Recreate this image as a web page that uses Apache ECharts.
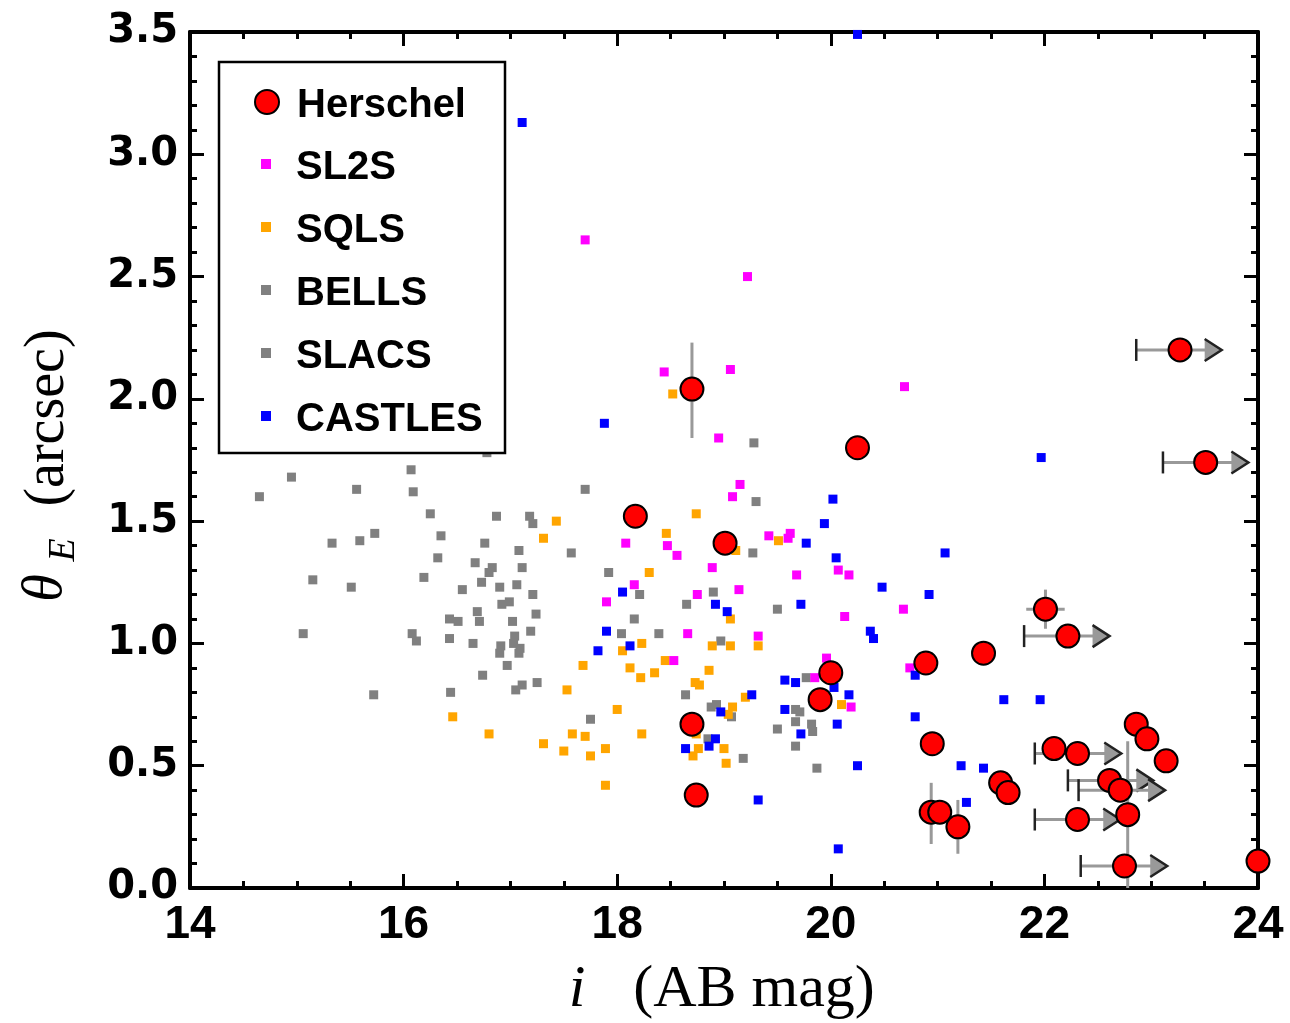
<!DOCTYPE html>
<html>
<head>
<meta charset="utf-8">
<script src="https://cdn.jsdelivr.net/npm/echarts@6/dist/echarts.min.js"></script>
<style>html,body{margin:0;padding:0;background:#fff}#c{width:1290px;height:1023px}</style>
</head>
<body>
<div id="c"></div>
<script>
// ---- data (i mag, theta_E arcsec) ----
const seriesNames = ['Herschel', 'SL2S', 'SQLS', 'BELLS', 'SLACS', 'CASTLES'];
const xTicks = [14, 16, 18, 20, 22, 24];
const yTicks = [0.0, 0.5, 1.0, 1.5, 2.0, 2.5, 3.0, 3.5];

const herschel = [
  [18.70,2.04],[20.25,1.80],[18.17,1.52],[19.01,1.41],[23.27,2.20],[23.51,1.74],
  [22.01,1.14],[22.22,1.03],[20.89,0.92],[21.43,0.96],[20.00,0.88],[19.90,0.77],
  [18.70,0.67],[18.74,0.38],[20.95,0.59],[22.09,0.57],[22.31,0.55],[22.86,0.67],
  [22.96,0.61],[23.14,0.52],[22.61,0.44],[22.71,0.40],[21.59,0.43],[21.66,0.39],
  [20.94,0.31],[21.02,0.31],[21.19,0.25],[22.31,0.28],[22.78,0.30],[22.75,0.09],
  [24.00,0.11]
];
// lower limits on i: [i, theta, bar start, arrow tip]
const herschelLimits = [
  [23.27,2.20,22.86,23.66],[23.51,1.74,23.11,23.91],[22.22,1.03,21.81,22.61],
  [22.31,0.55,21.91,22.72],[22.61,0.44,22.22,23.02],[22.71,0.40,22.32,23.13],
  [22.31,0.28,21.91,22.71],[22.75,0.09,22.34,23.15]
];
// error bars: [i, theta, theta low, theta high, i low, i high]
const herschelErrors = [
  [18.70,2.04,1.84,2.23,18.70,18.70],
  [22.01,1.14,1.06,1.22,21.83,22.19],
  [20.94,0.31,0.18,0.43,20.94,20.94],
  [21.19,0.25,0.14,0.36,21.19,21.19],
  [22.78,0.30,0.00,0.60,22.78,22.78]
];
const sl2s = [
  [17.70,2.65],[19.22,2.50],[18.44,2.11],[19.06,2.12],[20.69,2.05],[18.95,1.84],
  [19.15,1.65],[19.08,1.60],[18.08,1.41],[18.47,1.40],[18.56,1.36],[19.42,1.44],
  [19.62,1.45],[19.60,1.43],[18.89,1.31],[19.68,1.28],[20.07,1.30],[20.17,1.28],
  [19.14,1.22],[18.75,1.20],[20.13,1.11],[20.68,1.14],[17.90,1.17],[18.16,1.24],
  [18.53,0.93],[18.66,1.04],[19.32,1.03],[20.74,0.90],[19.85,0.86],[19.96,0.94],
  [20.19,0.74]
];
const sqls = [
  [17.43,1.50],[17.31,1.43],[17.68,0.91],[17.53,0.81],[16.46,0.70],[16.80,0.63],
  [17.31,0.59],[17.50,0.56],[17.58,0.63],[17.70,0.62],[17.75,0.54],[17.89,0.57],
  [17.89,0.42],[18.00,0.73],[18.23,0.63],[18.12,0.90],[18.22,0.86],[18.35,0.88],
  [18.45,0.93],[18.05,0.97],[18.23,1.00],[18.30,1.29],[18.46,1.45],[18.52,2.02],
  [18.74,1.53],[19.51,1.42],[19.11,1.38],[19.06,1.10],[18.89,0.99],[19.06,0.99],
  [19.32,0.99],[18.86,0.89],[18.73,0.84],[18.77,0.83],[19.20,0.78],[19.08,0.74],
  [19.04,0.71],[18.74,0.63],[18.76,0.57],[18.71,0.54],[19.00,0.57],[19.02,0.51],
  [20.10,0.75]
];
const bells = [
  [18.39,1.04],[19.28,1.82],[19.30,1.58],[19.27,1.37],[18.90,1.21],[18.65,1.16],
  [19.50,1.14],[18.97,1.01],[18.64,0.79],[18.88,0.74],[18.93,0.75],[19.07,0.70],
  [18.85,0.61],[19.18,0.53],[19.77,0.86],[19.67,0.73],[19.71,0.72],[19.50,0.65],
  [19.67,0.68],[19.82,0.67],[19.83,0.64],[19.67,0.58],[19.87,0.49]
];
const slacs = [
  [14.65,1.60],[14.95,1.68],[15.56,1.63],[16.07,1.71],[16.09,1.62],[16.25,1.53],
  [16.87,1.52],[17.18,1.52],[17.21,1.49],[17.70,1.63],[16.78,1.78],[16.35,1.44],
  [15.33,1.41],[15.59,1.42],[15.73,1.45],[16.76,1.41],[17.08,1.38],[17.57,1.37],
  [16.32,1.35],[16.67,1.33],[16.83,1.31],[16.80,1.29],[17.11,1.31],[16.19,1.27],
  [15.15,1.26],[15.51,1.23],[16.73,1.25],[16.55,1.22],[16.90,1.23],[17.06,1.24],
  [17.21,1.20],[17.92,1.29],[16.99,1.17],[16.92,1.16],[16.69,1.13],[17.24,1.12],
  [16.43,1.10],[16.51,1.09],[16.71,1.09],[17.02,1.09],[17.19,1.05],[15.06,1.04],
  [16.08,1.04],[16.12,1.01],[16.43,1.02],[16.65,1.00],[17.04,1.03],[17.03,1.00],
  [16.91,0.99],[16.90,0.96],[17.09,0.98],[17.08,0.96],[16.97,0.91],[16.74,0.87],
  [15.72,0.79],[16.44,0.80],[17.05,0.81],[17.11,0.83],[17.25,0.84],[17.75,0.69],
  [18.04,1.04],[18.16,1.10],[18.21,1.20]
];
const castles = [
  [20.25,3.49],[17.11,3.13],[17.88,1.90],[21.97,1.76],[20.02,1.59],[19.94,1.49],
  [19.77,1.41],[20.05,1.35],[21.07,1.37],[20.48,1.23],[20.92,1.20],[18.05,1.21],
  [18.92,1.16],[19.03,1.13],[19.72,1.16],[17.90,1.05],[17.82,0.97],[18.12,0.99],
  [20.37,1.05],[20.40,1.02],[20.79,0.87],[20.79,0.70],[19.26,0.79],[18.97,0.72],
  [19.57,0.85],[19.67,0.84],[20.03,0.82],[20.17,0.79],[19.57,0.73],[19.72,0.63],
  [20.06,0.67],[18.64,0.57],[18.92,0.61],[18.86,0.58],[19.32,0.36],[20.25,0.50],
  [20.07,0.16],[21.62,0.77],[21.96,0.77],[21.22,0.50],[21.43,0.49],[21.27,0.35]
];

// ---- chart ----
const chart = echarts.init(document.getElementById('c'));
const SQ = 9;
const sansLabel = {color:'#000', fontWeight:'bold'};

function axisCommon(extra){
  return Object.assign({
    axisLine:{show:true, onZero:false, lineStyle:{color:'#000', width:4}},
    axisTick:{show:true, inside:true, length:14, lineStyle:{color:'#000', width:3}},
    minorTick:{show:true, length:7, lineStyle:{color:'#000', width:3}},
    splitLine:{show:false}
  }, extra);
}

const legendText = {fontSize:40, fontWeight:'bold', fontFamily:'"Liberation Sans",Arial,sans-serif', color:'#000', lineHeight:40, padding:[8,0,0,0]};

const option = {
  animation:false,
  backgroundColor:'#fff',
  grid:{left:190, right:32, top:32, bottom:135, containLabel:false},
  xAxis:[
    axisCommon({type:'value', min:14, max:24, interval:2, position:'bottom',
      minorTick:{show:true, splitNumber:4, length:7, lineStyle:{color:'#000', width:3}},
      axisLabel:Object.assign({fontSize:46, fontFamily:'"Liberation Sans Narrow","Liberation Sans",Arial,sans-serif', margin:14,
        formatter:v=>xTicks.includes(v)?String(v):''}, sansLabel)}),
    axisCommon({type:'value', min:14, max:24, interval:2, position:'top',
      minorTick:{show:true, splitNumber:4, length:7, lineStyle:{color:'#000', width:3}},
      axisLabel:{show:false}})
  ],
  yAxis:[
    axisCommon({type:'value', min:0, max:3.5, interval:0.5, position:'left',
      minorTick:{show:true, splitNumber:5, length:7, lineStyle:{color:'#000', width:3}},
      axisLabel:Object.assign({fontSize:40, fontFamily:'"DejaVu Sans",sans-serif', margin:12,
        formatter:v=>yTicks.some(t=>Math.abs(t-v)<1e-9)?v.toFixed(1):''}, sansLabel)}),
    axisCommon({type:'value', min:0, max:3.5, interval:0.5, position:'right',
      minorTick:{show:true, splitNumber:5, length:7, lineStyle:{color:'#000', width:3}},
      axisLabel:{show:false}})
  ],
  legend:[
    {data:['Herschel'], orient:'vertical', left:254, top:78, itemWidth:24, itemHeight:24, z:20,
     selectedMode:false, padding:0,
     formatter:'{sp| }{n|{name}}',
     textStyle:{rich:{sp:{width:13}, n:legendText}}},
    {data:['SL2S','SQLS','BELLS','SLACS','CASTLES'], orient:'vertical', left:261, top:140, itemWidth:10, itemHeight:10, itemGap:15, z:20,
     selectedMode:false, padding:0,
     formatter:'{sp| }{n|{name}}',
     textStyle:{rich:{sp:{width:20}, n:legendText}}}
  ],
  graphic:[
    {type:'rect', z:10, shape:{x:219, y:62, width:286, height:391},
     style:{fill:'#fff', stroke:'#000', lineWidth:2.5}},
    {type:'text', z:10, x:577, y:990, style:{text:'i', font:'italic 60px "Liberation Serif","Times New Roman",serif', fill:'#000', align:'center', verticalAlign:'middle'}},
    {type:'text', z:10, x:754, y:990, style:{text:'(AB mag)', font:'60px "Liberation Serif","Times New Roman",serif', fill:'#000', align:'center', verticalAlign:'middle'}},
    {type:'text', z:10, x:46, y:588, rotation:Math.PI/2, style:{text:'θ', font:'italic 56px "Liberation Serif","Times New Roman",serif', fill:'#000', align:'center', verticalAlign:'middle'}},
    {type:'text', z:10, x:64, y:550, rotation:Math.PI/2, style:{text:'E', font:'italic 38px "Liberation Serif","Times New Roman",serif', fill:'#000', align:'center', verticalAlign:'middle'}},
    {type:'text', z:10, x:48, y:418, rotation:Math.PI/2, style:{text:'(arcsec)', font:'56px "Liberation Serif","Times New Roman",serif', fill:'#000', align:'center', verticalAlign:'middle'}}
  ],
  series:[
    {name:'SLACS', type:'scatter', symbol:'rect', symbolSize:SQ, data:slacs, itemStyle:{color:'#808080', opacity:1}},
    {name:'BELLS', type:'scatter', symbol:'rect', symbolSize:SQ, data:bells, itemStyle:{color:'#808080', opacity:1}},
    {name:'SQLS', type:'scatter', symbol:'rect', symbolSize:SQ, data:sqls, itemStyle:{color:'#ffa500', opacity:1}},
    {name:'SL2S', type:'scatter', symbol:'rect', symbolSize:SQ, data:sl2s, itemStyle:{color:'#ff00ff', opacity:1}},
    {name:'CASTLES', type:'scatter', symbol:'rect', symbolSize:SQ, data:castles, itemStyle:{color:'#0000ff', opacity:1}},
    {name:'errors', type:'custom', data:herschelErrors, z:3, encode:{x:0, y:1},
     renderItem:function(params, api){
       const x = api.value(0), y = api.value(1);
       const p1 = api.coord([x, api.value(2)]), p2 = api.coord([x, api.value(3)]);
       const q1 = api.coord([api.value(4), y]), q2 = api.coord([api.value(5), y]);
       const st = {stroke:'#999', lineWidth:3};
       return {type:'group', children:[
         {type:'line', shape:{x1:p1[0], y1:p1[1], x2:p2[0], y2:p2[1]}, style:st},
         {type:'line', shape:{x1:q1[0], y1:q1[1], x2:q2[0], y2:q2[1]}, style:st}
       ]};
     }},
    {name:'limits', type:'custom', data:herschelLimits, z:3, encode:{x:0, y:1},
     renderItem:function(params, api){
       const y = api.value(1);
       const a = api.coord([api.value(2), y]), t = api.coord([api.value(3), y]);
       const hw = 17, hh = 11;
       return {type:'group', children:[
         {type:'line', shape:{x1:a[0], y1:a[1], x2:t[0]-hw+2, y2:t[1]}, style:{stroke:'#999', lineWidth:3}},
         {type:'line', shape:{x1:a[0], y1:a[1]-11, x2:a[0], y2:a[1]+11}, style:{stroke:'#222', lineWidth:2.5}},
         {type:'polygon', shape:{points:[[t[0]-hw, t[1]-hh],[t[0], t[1]],[t[0]-hw, t[1]+hh]]}, style:{fill:'#999'}},
         {type:'polyline', shape:{points:[[t[0]-hw, t[1]-hh],[t[0], t[1]],[t[0]-hw, t[1]+hh]]}, style:{stroke:'#222', lineWidth:2.5, fill:null}}
       ]};
     }},
    {name:'Herschel', type:'scatter', symbol:'circle', symbolSize:23, z:4, data:herschel,
     itemStyle:{color:'#ff0000', borderColor:'#000', borderWidth:2, opacity:1}}
  ]
};
chart.setOption(option);
</script>
</body>
</html>
